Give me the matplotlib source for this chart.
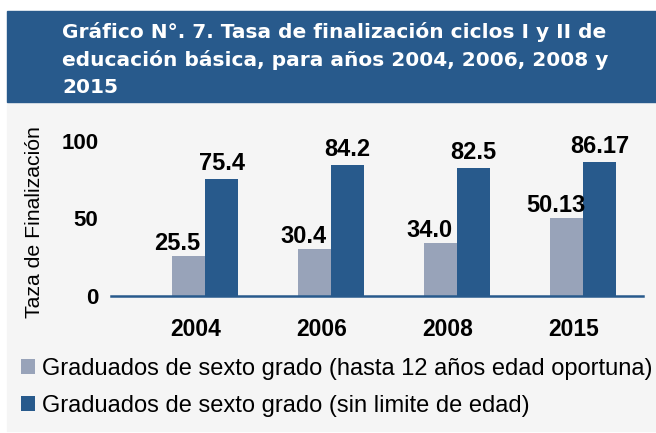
import matplotlib
matplotlib.use("Agg")
import matplotlib.pyplot as plt
from matplotlib.patches import Rectangle
from matplotlib.transforms import ScaledTranslation
import numpy as np

years = ["2004", "2006", "2008", "2015"]
oportuna = [25.5, 30.4, 34.0, 50.13]
sin_limite = [75.4, 84.2, 82.5, 86.17]
oportuna_labels = ["25.5", "30.4", "34.0", "50.13"]
sin_limite_labels = ["75.4", "84.2", "82.5", "86.17"]
yticks = [0, 50, 100]
title_lines = ["Gráfico N°. 7. Tasa de finalización ciclos I y II de",
               "educación básica, para años 2004, 2006, 2008 y",
               "2015"]
legend_labels = ["Graduados de sexto grado (hasta 12 años edad oportuna)",
                 "Graduados de sexto grado (sin limite de edad)"]
ylabel = "Taza de Finalización"

DARK = "#285a8c"
LIGHT = "#98a3b9"
BG = "#f5f5f5"
plt.rcParams['font.family'] = ['Liberation Sans', 'DejaVu Sans']

W, H = 656, 433
fig = plt.figure(figsize=(W/100, H/100), dpi=100)
fig.patch.set_facecolor("white")

def fx(px): return px / W
def fy(py): return 1 - py / H

# grey panel and title box
fig.patches.append(Rectangle((fx(7), fy(431)), 1 - fx(7), fy(102) - fy(431),
                             transform=fig.transFigure, color=BG, zorder=-5))
fig.patches.append(Rectangle((fx(7), fy(102)), 1 - fx(7), fy(11) - fy(102),
                             transform=fig.transFigure, color=DARK, zorder=-5))
for i, line in enumerate(title_lines):
    fig.text(fx(62), fy(38 + 27.5 * i), line, color="white", fontsize=14.5,
             fontweight="bold", ha="left", va="baseline",
             family=['DejaVu Sans'])

ax = fig.add_axes([fx(111), fy(296), fx(643) - fx(111), fy(141) - fy(296)])
ax.set_zorder(2)
ax.patch.set_alpha(0)

x = np.arange(len(years))
w = 0.262
b1 = ax.bar(x - w/2, oportuna, w, color=LIGHT, label=legend_labels[0], zorder=2)
b2 = ax.bar(x + w/2, sin_limite, w, color=DARK, label=legend_labels[1], zorder=2)

for xi, v, lab in zip(x, oportuna, oportuna_labels):
    ax.annotate(lab, (xi - w/2, v), xytext=(-8, 4.5), textcoords="offset points",
                ha="center", va="baseline", fontsize=17, fontweight="bold")
for xi, v, lab in zip(x, sin_limite, sin_limite_labels):
    ax.annotate(lab, (xi + w/2, v), xytext=(0, 6.5), textcoords="offset points",
                ha="center", va="baseline", fontsize=17, fontweight="bold")

ax.set_xlim(-0.746, 3.476)
ax.set_ylim(0, 100)
ax.set_yticks(yticks)
ax.set_yticklabels([str(t) for t in yticks], fontsize=16, fontweight="bold")
ax.set_xticks(x)
ax.set_xticklabels(years, fontsize=16.5, fontweight="bold")
ax.tick_params(axis="both", length=0)
ax.tick_params(axis="y", pad=9)
ax.tick_params(axis="x", pad=15.5)
shift = ScaledTranslation(-7/72, 0, fig.dpi_scale_trans)
for lbl in ax.get_xticklabels():
    lbl.set_transform(lbl.get_transform() + shift)
for s in ["top", "right", "left"]:
    ax.spines[s].set_visible(False)
ax.spines["bottom"].set_color(DARK)
ax.spines["bottom"].set_linewidth(1.8)

fig.text(fx(35), fy(222), ylabel, rotation=90, ha="center", va="center", fontsize=15.3)

fig.legend(handles=[b1, b2], labels=legend_labels, loc="upper left",
           bbox_to_anchor=(fx(21), fy(358)), frameon=False, fontsize=17,
           handlelength=0.6, handleheight=0.6, handletextpad=0.3,
           labelspacing=0.62, borderaxespad=0, borderpad=0)

fig.savefig("out.png", dpi=100, facecolor="white")
